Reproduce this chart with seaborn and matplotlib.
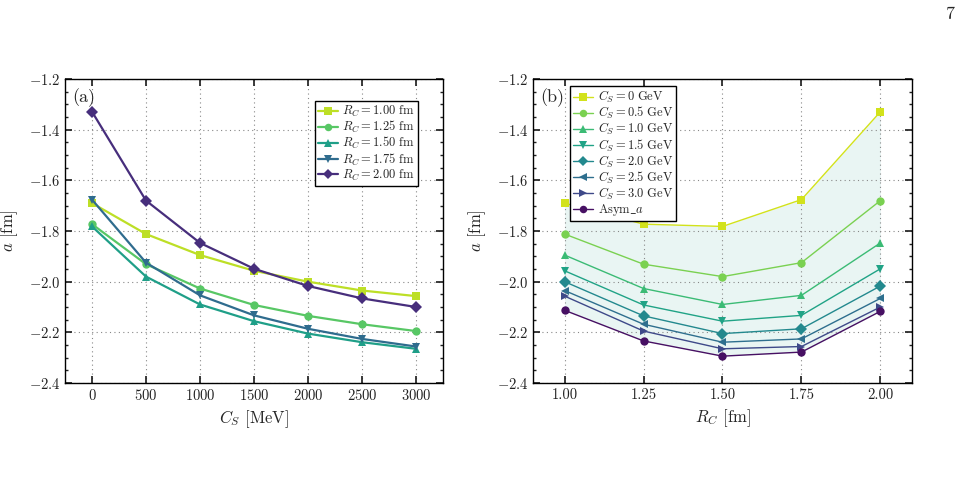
import numpy as np
import pandas as pd
import matplotlib
matplotlib.use("Agg")
import matplotlib.pyplot as plt
from matplotlib.ticker import AutoMinorLocator, MultipleLocator
import seaborn as sns

# ---------------------------------------------------------------
# Data (scattering length a [fm])
# ---------------------------------------------------------------
cs_mev = [0, 500, 1000, 1500, 2000, 2500, 3000]
rc_fm = [1.00, 1.25, 1.50, 1.75, 2.00]

a_rc100 = [-1.690, -1.812, -1.895, -1.957, -2.000, -2.035, -2.057]
a_rc125 = [-1.773, -1.931, -2.027, -2.092, -2.135, -2.168, -2.195]
a_rc150 = [-1.782, -1.980, -2.090, -2.156, -2.205, -2.239, -2.265]
a_rc175 = [-1.676, -1.925, -2.054, -2.133, -2.186, -2.226, -2.256]
a_rc200 = [-1.329, -1.680, -1.847, -1.949, -2.017, -2.066, -2.100]
asym_a = [-2.113, -2.234, -2.294, -2.278, -2.117]

rc_labels = [r"$R_C = 1.00\ \mathrm{fm}$", r"$R_C = 1.25\ \mathrm{fm}$",
             r"$R_C = 1.50\ \mathrm{fm}$", r"$R_C = 1.75\ \mathrm{fm}$",
             r"$R_C = 2.00\ \mathrm{fm}$"]
cs_labels = [r"$C_S = 0\ \mathrm{GeV}$", r"$C_S = 0.5\ \mathrm{GeV}$",
             r"$C_S = 1.0\ \mathrm{GeV}$", r"$C_S = 1.5\ \mathrm{GeV}$",
             r"$C_S = 2.0\ \mathrm{GeV}$", r"$C_S = 2.5\ \mathrm{GeV}$",
             r"$C_S = 3.0\ \mathrm{GeV}$", r"$\mathrm{Asym\_}a$"]

# ---------------------------------------------------------------
# Style
# ---------------------------------------------------------------
sns.set_theme(style="ticks")
plt.rcParams.update({
    "font.family": "serif",
    "font.serif": ["cmr10", "DejaVu Serif"],
    "mathtext.fontset": "cm",
    "axes.formatter.use_mathtext": True,
    "axes.unicode_minus": True,
    "axes.edgecolor": "black",
    "axes.linewidth": 1.0,
    "xtick.direction": "in",
    "ytick.direction": "in",
    "xtick.top": True,
    "ytick.right": True,
    "xtick.major.size": 5,
    "ytick.major.size": 5,
    "ytick.minor.size": 2.5,
    "xtick.labelsize": 10.5,
    "ytick.labelsize": 10.5,
    "xtick.color": "#222222",
    "ytick.color": "#222222",
})

vir = plt.get_cmap("viridis")
left_colors = [vir(x) for x in (0.90, 0.74, 0.56, 0.35, 0.13)]
right_colors = [vir(x) for x in (0.93, 0.80, 0.68, 0.58, 0.47, 0.36, 0.22, 0.04)]
left_markers = ["s", "o", "^", "v", "D"]
right_markers = ["s", "o", "^", "v", "D", "<", ">", "o"]

# long-form tables for seaborn
a_by_rc = [a_rc100, a_rc125, a_rc150, a_rc175, a_rc200]
df_left = pd.DataFrame([
    {"Cs": cs, "a": a_vals[i], "series": lab}
    for lab, a_vals in zip(rc_labels, a_by_rc)
    for i, cs in enumerate(cs_mev)
])

rows = []
for j, lab in enumerate(cs_labels[:-1]):
    for k, rc in enumerate(rc_fm):
        rows.append({"Rc": rc, "a": a_by_rc[k][j], "series": lab})
for k, rc in enumerate(rc_fm):
    rows.append({"Rc": rc, "a": asym_a[k], "series": cs_labels[-1]})
df_right = pd.DataFrame(rows)

fig = plt.figure(figsize=(9.67, 4.78), dpi=100)
ax1 = fig.add_axes([65 / 967, 1 - 383 / 478, 378 / 967, 304 / 478])
ax2 = fig.add_axes([533 / 967, 1 - 383 / 478, 379 / 967, 304 / 478])

# legend labels are pure mathtext; rows packed tight as in the original
leg_kw = dict(prop={"family": "Liberation Serif", "size": 9.0},
              fancybox=False, edgecolor="black", framealpha=1,
              handlelength=1.6, borderpad=0.25, labelspacing=0.0,
              handletextpad=0.35, borderaxespad=0.0, markerscale=0.9)

# ---------------------------------------------------------------
# (a) a vs C_S
# ---------------------------------------------------------------
sns.lineplot(data=df_left, x="Cs", y="a", hue="series", style="series",
             hue_order=rc_labels, style_order=rc_labels,
             palette=left_colors, markers=left_markers, dashes=False,
             markersize=6, markeredgewidth=0, linewidth=1.6, ax=ax1)
ax1.set_xlim(-250, 3250)
ax1.set_xticks(cs_mev)
ax1.set_xlabel(r"$C_S$ [MeV]", fontsize=12)
leg1 = ax1.legend(loc="upper right", bbox_to_anchor=(0.934, 0.928), **leg_kw)
leg1.get_frame().set_linewidth(1.0)
ax1.text(0.02, 0.97, "(a)", transform=ax1.transAxes, fontsize=13,
         va="top", ha="left")

# ---------------------------------------------------------------
# (b) a vs R_C
# ---------------------------------------------------------------
cs0 = df_right[df_right["series"] == cs_labels[0]]["a"].to_numpy()
ax2.fill_between(rc_fm, cs0, asym_a, color="#2a9d8f", alpha=0.10, lw=0,
                 zorder=0)
sns.lineplot(data=df_right, x="Rc", y="a", hue="series", style="series",
             hue_order=cs_labels, style_order=cs_labels,
             palette=right_colors, markers=right_markers, dashes=False,
             markersize=6, markeredgewidth=0, linewidth=1.0, ax=ax2)
ax2.set_xlim(0.9, 2.1)
ax2.set_xticks(rc_fm)
ax2.set_xticklabels(["1.00", "1.25", "1.50", "1.75", "2.00"])
ax2.set_xlabel(r"$R_C$ [fm]", fontsize=12)
leg2 = ax2.legend(loc="upper left", bbox_to_anchor=(0.098, 0.977), **leg_kw)
leg2.get_frame().set_linewidth(1.0)
ax2.text(0.02, 0.97, "(b)", transform=ax2.transAxes, fontsize=13,
         va="top", ha="left")

for ax in (ax1, ax2):
    ax.set_ylim(-2.4, -1.2)
    ax.yaxis.set_major_locator(MultipleLocator(0.2))
    ax.yaxis.set_minor_locator(AutoMinorLocator(4))
    ax.set_ylabel(r"$a$ [fm]", fontsize=12, labelpad=6)
    ax.grid(True, which="major", linestyle=(0, (1, 3)), color="#888888",
            linewidth=0.8)
    ax.set_axisbelow(True)

fig.text(0.988, 0.985, "7", fontsize=13, ha="right", va="top")

fig.savefig("out.png", dpi=100)
